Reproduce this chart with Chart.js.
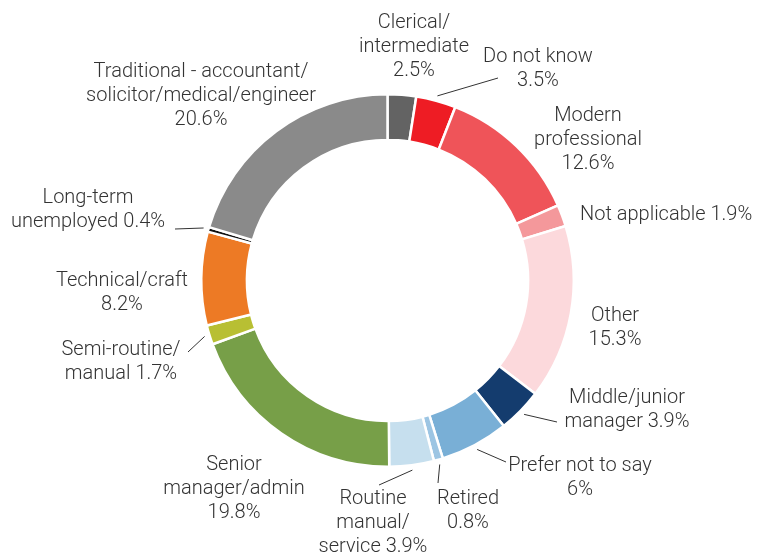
<!DOCTYPE html>
<html>
<head>
<meta charset="utf-8">
<script src="https://cdn.jsdelivr.net/npm/chart.js@4/dist/chart.umd.min.js"></script>
<style>
html,body{margin:0;padding:0;background:#fff;}
#wrap{width:760px;height:560px;}
</style>
</head>
<body>
<div id="wrap"><canvas id="c" width="760" height="560"></canvas></div>
<script>
// ---- data ----
const categories = [
  ["Clerical/", "intermediate"],
  ["Do not know"],
  ["Modern", "professional"],
  ["Not applicable"],
  ["Other"],
  ["Middle/junior", "manager"],
  ["Prefer not to say"],
  ["Retired"],
  ["Routine", "manual/", "service"],
  ["Senior", "manager/admin"],
  ["Semi-routine/", "manual"],
  ["Technical/craft"],
  ["Long-term", "unemployed"],
  ["Traditional - accountant/", "solicitor/medical/engineer"]
];
const values = [2.5, 3.5, 12.6, 1.9, 15.3, 3.9, 6, 0.8, 3.9, 19.8, 1.7, 8.2, 0.4, 20.6];
const valueLabels = ["2.5%", "3.5%", "12.6%", "1.9%", "15.3%", "3.9%", "6%", "0.8%", "3.9%", "19.8%", "1.7%", "8.2%", "0.4%", "20.6%"];
// whether the value goes on the last text line or a new line
const valueInline = [false, false, false, true, false, true, false, false, true, false, true, false, true, false];

const colors = ["#636363", "#ee1c24", "#ef5459", "#f4989b", "#fcd9dc", "#143c6e", "#79afd6", "#9cc5e3", "#c6dfee", "#779f48", "#b8bf33", "#ed7a25", "#111111", "#8a8a8a"];

// ---- label layout (annotation positions) ----
// [x, y of first line centre, align, leaderEndX, leaderEndY]
const labelLayout = [
  [414, 23, "center"],
  [538, 57, "center", 498, 78],
  [588, 116, "center"],
  [580, 215, "left"],
  [615, 316, "center"],
  [627, 398, "center", 557, 422],
  [580, 466, "center", 506, 462],
  [468, 499, "center", 438, 483],
  [373, 499, "center", 379, 485],
  [234, 465, "center"],
  [121, 350, "center", 188, 352],
  [122, 281, "center"],
  [88, 198, "center", 175, 229],
  [201, 72, "center"]
];

const labelPlugin = {
  id: "outLabels",
  afterDatasetsDraw(chart) {
    const ctx = chart.ctx;
    const meta = chart.getDatasetMeta(0);
    ctx.save();
    ctx.font = "300 20px Roboto";
    ctx.fillStyle = "#333333";
    ctx.textBaseline = "middle";
    const lh = 24;
    meta.data.forEach((arc, i) => {
      const L = labelLayout[i];
      const lines = categories[i].slice();
      if (valueInline[i]) lines[lines.length - 1] += " " + valueLabels[i];
      else lines.push(valueLabels[i]);
      ctx.textAlign = L[2];
      lines.forEach((t, k) => ctx.fillText(t, L[0], L[1] + k * lh));
      if (L.length > 3) {
        const p = arc.getProps(["x", "y", "startAngle", "endAngle", "outerRadius"], true);
        const a = (p.startAngle + p.endAngle) / 2;
        const r = p.outerRadius + 5;
        ctx.beginPath();
        ctx.strokeStyle = "#333333";
        ctx.lineWidth = 1;
        ctx.moveTo(p.x + Math.cos(a) * r, p.y + Math.sin(a) * r);
        ctx.lineTo(L[3], L[4]);
        ctx.stroke();
      }
    });
    ctx.restore();
  }
};

new Chart(document.getElementById("c"), {
  type: "doughnut",
  data: {
    labels: categories.map(c => c.join(" ")),
    datasets: [{
      data: values,
      backgroundColor: colors,
      borderColor: "#ffffff",
      borderWidth: 2.5,
      hoverOffset: 0
    }]
  },
  options: {
    responsive: false,
    animation: false,
    cutout: "75.5%",
    layout: { padding: { top: 93, bottom: 92, left: 200, right: 185 } },
    plugins: { legend: { display: false }, tooltip: { enabled: false } }
  },
  plugins: [labelPlugin]
});
</script>
</body>
</html>
